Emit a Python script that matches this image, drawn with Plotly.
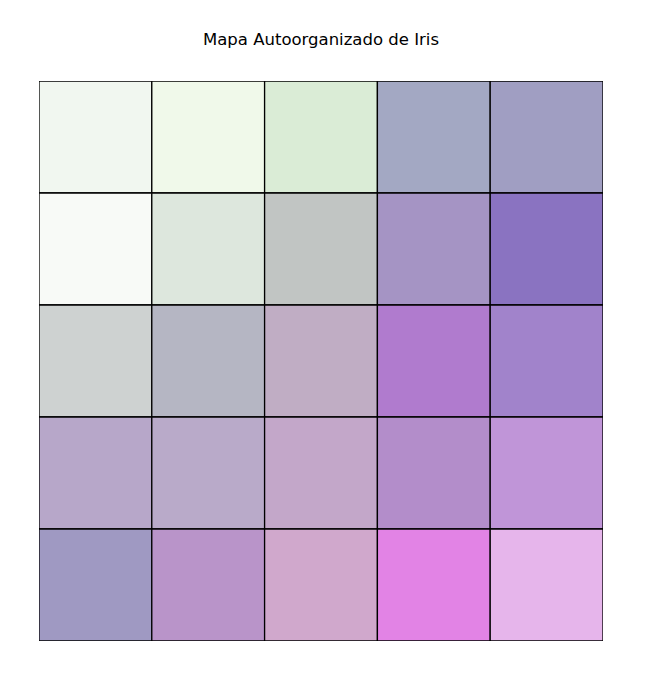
import plotly.graph_objects as go

# SOM cell colours, rows listed top to bottom
row_labels = [0, 1, 2, 3, 4]
col_labels = [0, 1, 2, 3, 4]
cell_colors = [
    ["#F1F7F0", "#F0F9EA", "#DAECD6", "#A3A8C3", "#A09EC2"],
    ["#F8FAF7", "#DDE7DD", "#C1C5C3", "#A594C4", "#8A73C1"],
    ["#CED2D1", "#B5B6C3", "#C0ADC4", "#B07BCE", "#A183CB"],
    ["#B7A7C9", "#B9AAC9", "#C3A7C9", "#B38DCA", "#C095D8"],
    ["#9F99C2", "#B994C9", "#D0A8CC", "#E283E5", "#E6B5EB"],
]

fig = go.Figure()
shapes = []
n_rows = len(row_labels)
for r in row_labels:
    for c in col_labels:
        shapes.append(dict(
            type="rect", xref="x", yref="y",
            x0=c, x1=c + 1, y0=n_rows - r - 1, y1=n_rows - r,
            fillcolor=cell_colors[r][c],
            line=dict(color="black", width=1.3),
            layer="above",
        ))

# invisible trace so axes are set up
fig.add_trace(go.Scatter(x=[0, len(col_labels)], y=[0, n_rows], mode="markers",
                         marker=dict(opacity=0), hoverinfo="skip", showlegend=False))

fig.update_layout(
    width=665, height=680,
    margin=dict(l=31, r=70, t=73, b=47),
    paper_bgcolor="white", plot_bgcolor="white",
    shapes=shapes,
    title=dict(text="Mapa Autoorganizado de Iris", x=313 / 665, xanchor="center",
               y=1 - 31 / 680, yanchor="middle",
               font=dict(family="DejaVu Sans", size=16.5, color="black")),
    xaxis=dict(range=[0, len(col_labels)], visible=False, fixedrange=True),
    yaxis=dict(range=[0, n_rows], visible=False, fixedrange=True),
)

fig.write_html("out.html")
